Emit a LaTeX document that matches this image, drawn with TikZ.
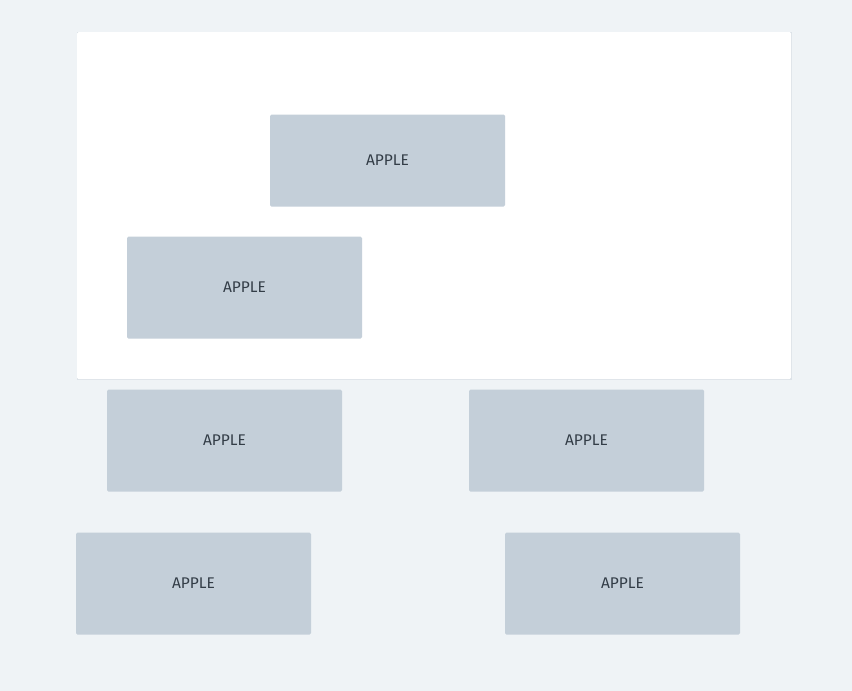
\documentclass[tikz,border=0pt]{standalone}
\usepackage{fontspec}
\setmainfont{Fira Sans}
\definecolor{bgc}{HTML}{EFF3F6}
\definecolor{boxc}{HTML}{C4CFD9}
\definecolor{txtc}{HTML}{333D47}
\definecolor{shadowc}{HTML}{DCE2E8}
\tikzset{
  applebox/.style={fill=boxc, draw=none, rounded corners=1.5pt, minimum width=235pt, minimum height=102pt, inner sep=0pt, text=txtc, font=\fontsize{15.5}{18}\selectfont},
}
\begin{document}
\begin{tikzpicture}[x=1pt,y=-1pt]
\fill[bgc] (0,0) rectangle (852,691);
\useasboundingbox (0,0) rectangle (852,691);
\fill[shadowc] (76.5,31.5) rectangle (791.5,379.5);
\fill[white, rounded corners=1.5pt] (77,32) rectangle (791,379);
\node[applebox, minimum height=92pt] (a1) at (387.5,160.5) {APPLE};
\node[applebox] (a2) at (244.5,287.5) {APPLE};
\node[applebox] (a3) at (224.5,440.5) {APPLE};
\node[applebox] (a4) at (586.5,440.5) {APPLE};
\node[applebox] (a5) at (193.5,583.5) {APPLE};
\node[applebox] (a6) at (622.5,583.5) {APPLE};
\end{tikzpicture}
\end{document}
